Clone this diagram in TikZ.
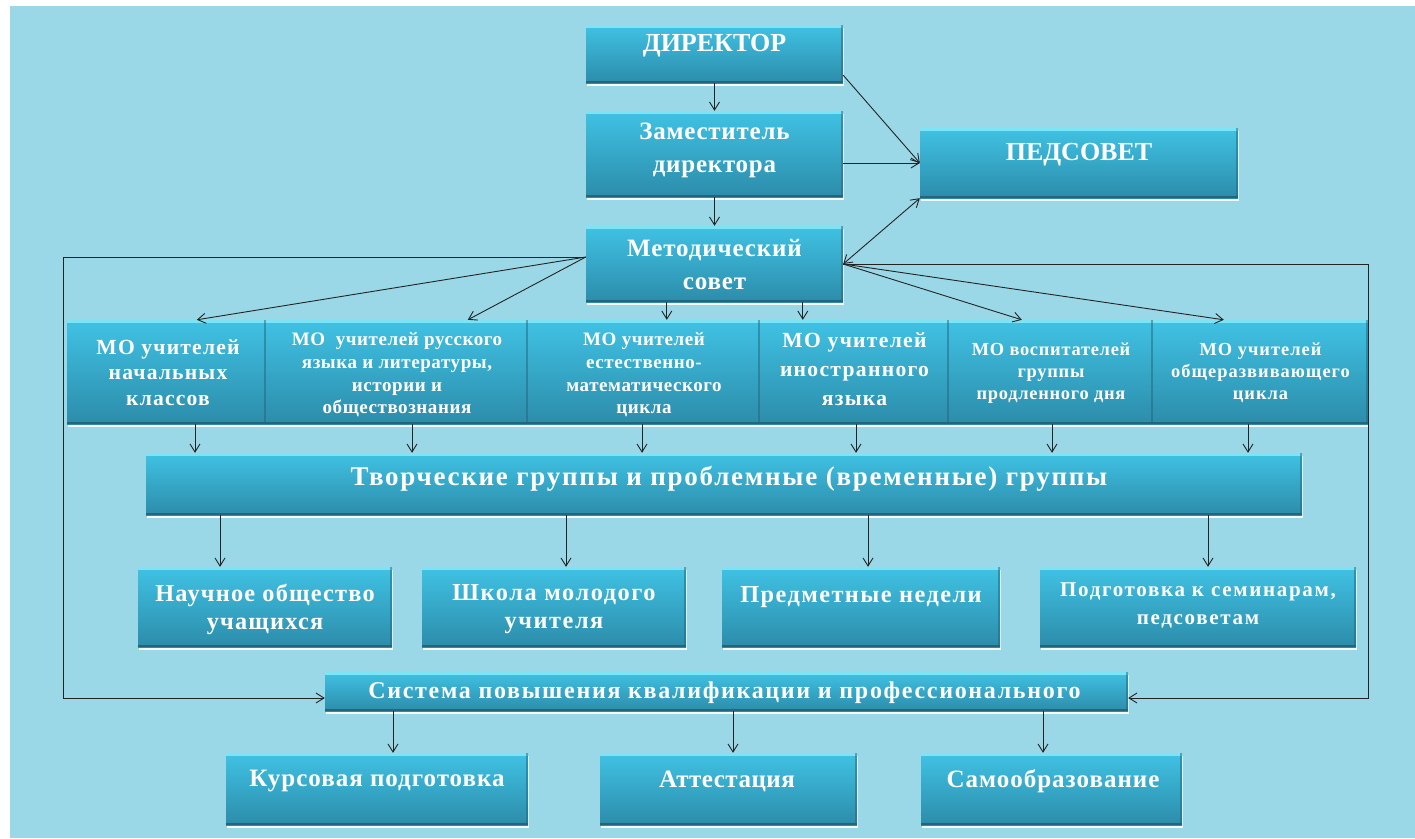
\documentclass[tikz,border=0pt]{standalone}
\usepackage{fontspec}
\setmainfont{Liberation Serif}
\usetikzlibrary{arrows.meta,calc,shadows}
\definecolor{bgblue}{RGB}{154,216,232}
\definecolor{boxtop}{RGB}{64,194,228}
\definecolor{boxbot}{RGB}{44,140,170}
\definecolor{boxhi}{RGB}{125,228,246}
\definecolor{boxdk}{RGB}{38,100,122}
\definecolor{lncol}{RGB}{35,35,35}
\newcommand{\fsz}[3]{\fontsize{#1}{#2}\selectfont\bfseries\addfontfeature{LetterSpace=#3}}
\begin{document}
\begin{tikzpicture}[x=1pt,y=-1pt,
  box/.style={rectangle, inner sep=0pt, draw=none, top color=boxtop, bottom color=boxbot,
    drop shadow={fill=white, opacity=0.9, shadow xshift=1pt, shadow yshift=-3pt},
    path picture={
      \fill[boxhi] (path picture bounding box.north west) rectangle ([yshift=-3pt]path picture bounding box.north east);
      \fill[boxdk] ([yshift=2.5pt]path picture bounding box.south west) rectangle (path picture bounding box.south east);
      \fill[boxdk,opacity=0.5] ([xshift=-2pt]path picture bounding box.north east) rectangle (path picture bounding box.south east);
    }},
  txt/.style={text=white, align=center, inner sep=0pt},
  arr/.style={draw=lncol, line width=0.9pt, -{Straight Barb[length=8pt,width=10pt]}},
  darr/.style={draw=lncol, line width=0.9pt, {Straight Barb[length=8pt,width=10pt]}-{Straight Barb[length=8pt,width=10pt]}}
]
\useasboundingbox (0,0) rectangle (1415,838);
\fill[white] (0,0) rectangle (1415,838);
\fill[bgblue] (10,6) rectangle (1415,838);

% boxes
\node[box, minimum width=257pt, minimum height=58pt] (dir) at (714.5,54) {};
\node[box, minimum width=257pt, minimum height=86pt] (zam) at (714.5,154) {};
\node[box, minimum width=257pt, minimum height=76pt] (met) at (714.5,264) {};
\node[box, minimum width=318pt, minimum height=70pt] (ped) at (1079,163) {};
\node[box, minimum width=199pt, minimum height=104pt] (mo1) at (166.5,372) {};
\node[box, minimum width=262pt, minimum height=104pt] (mo2) at (397,372) {};
\node[box, minimum width=232pt, minimum height=104pt] (mo3) at (644,372) {};
\node[box, minimum width=189pt, minimum height=104pt] (mo4) at (854.5,372) {};
\node[box, minimum width=204pt, minimum height=104pt] (mo5) at (1051,372) {};
\node[box, minimum width=215pt, minimum height=104pt] (mo6) at (1260.5,372) {};
\node[box, minimum width=1156pt, minimum height=62pt] (tvor) at (724,484) {};
\node[box, minimum width=254pt, minimum height=80pt] (nauch) at (265,607) {};
\node[box, minimum width=264pt, minimum height=80pt] (shk) at (554,607) {};
\node[box, minimum width=278pt, minimum height=80pt] (pred) at (861,607) {};
\node[box, minimum width=316pt, minimum height=80pt] (podg) at (1198,607) {};
\node[box, minimum width=803pt, minimum height=39pt] (sist) at (726.5,691.5) {};
\node[box, minimum width=302pt, minimum height=72pt] (kurs) at (377,789) {};
\node[box, minimum width=257pt, minimum height=72pt] (att) at (728.5,789) {};
\node[box, minimum width=261pt, minimum height=72pt] (samo) at (1051.5,789) {};

% texts
\node[txt, font=\fsz{26}{33}{0}] (tdir) at (714.5,46) {ДИРЕКТОР};
\node[txt, font=\fsz{25}{33}{3}] (tzam) at (714.5,150.5) {Заместитель\\директора};
\node[txt, font=\fsz{25}{33}{3.5}] (tmet) at (714.5,264.5) {Методический\\совет};
\node[txt, font=\fsz{26}{33}{0}] (tped) at (1079,155) {ПЕДСОВЕТ};
\node[txt, font=\fsz{21.6}{25.5}{5.5}] (tmo1) at (168,372.5) {МО учителей\\начальных\\классов};
\node[txt, font=\fsz{19}{22.7}{3}] (tmo2) at (397,375) {МО\ \ учителей русского\\языка и литературы,\\истории и\\обществознания};
\node[txt, font=\fsz{19}{22.7}{3}] (tmo3) at (644,375) {МО учителей\\естественно-\\математического\\цикла};
\node[txt, font=\fsz{21.6}{29}{6}] (tmo4) at (854.5,369) {МО учителей\\иностранного\\языка};
\node[txt, font=\fsz{18.4}{22}{4}] (tmo5) at (1051,373) {МО воспитателей\\группы\\продленного дня};
\node[txt, font=\fsz{18.4}{22}{5.5}] (tmo6) at (1260.5,373) {МО учителей\\общеразвивающего\\цикла};
\node[txt, font=\fsz{27}{30}{6.5}] (ttvor) at (729,479) {Творческие группы и проблемные (временные) группы};
\node[txt, font=\fsz{24.3}{28}{5}] (tnauch) at (265,609) {Научное общество\\учащихся};
\node[txt, font=\fsz{24.3}{28}{6.5}] (tshk) at (554,609) {Школа молодого\\учителя};
\node[txt, font=\fsz{24.3}{28}{6}] (tpred) at (861,597) {Предметные недели};
\node[txt, font=\fsz{21}{28}{8}] (tpodg) at (1198,605) {Подготовка к семинарам,\\педсоветам};
\node[txt, font=\fsz{24}{28}{7}] (tsist) at (724.5,693) {Система повышения квалификации и профессионального};
\node[txt, font=\fsz{25}{30}{4}] (tkurs) at (377,781) {Курсовая подготовка};
\node[txt, font=\fsz{25}{30}{2}] (tatt) at (727,781) {Аттестация};
\node[txt, font=\fsz{25}{30}{4}] (tsamo) at (1053,781) {Самообразование};

% helper coordinates
\coordinate (mleft) at ($(met.west)+(0,-7)$);
\coordinate (ltop) at (63,257);
\coordinate (lbot) at (63,698);
\coordinate (rtop) at (1368,264);
\coordinate (rbot) at (1368,698);
\coordinate (a1) at ($(mo1.north west)+(130,0)$);
\coordinate (a2) at ($(mo2.north west)+(202,0)$);
\coordinate (a3) at ($(mo3.north west)+(139,0)$);
\coordinate (a4) at ($(mo4.north west)+(43,0)$);
\coordinate (a5) at ($(mo5.north west)+(73,0)$);
\coordinate (a6) at ($(mo6.north west)+(71,0)$);
\foreach \i/\x in {1/195,2/412,3/642,4/856,5/1052,6/1248} \coordinate (d\i) at (\x,0);
\foreach \i/\x in {1/220,2/566,3/868,4/1208} \coordinate (e\i) at (\x,0);
\foreach \i/\x in {1/393,2/733,3/1043} \coordinate (f\i) at (\x,0);

% connectors
\draw[arr] (dir.south) -- (zam.north);
\draw[arr] ($(dir.south east)+(0,-8)$) -- (ped.west);
\draw[arr] (zam.east |- ped.west) -- (ped.west);
\draw[arr] (zam.south) -- (met.north);
\draw[darr] (met.east) -- (ped.south west);
\draw[arr] (met.east) -- (rtop) -- (rbot) -- (sist.east |- rbot);
\draw[arr] (mleft) -- (ltop) -- (lbot) -- (sist.west |- lbot);
\draw[arr] (mleft) -- (a1);
\draw[arr] (mleft) -- (a2);
\draw[arr] (met.south -| a3) -- (a3);
\draw[arr] (met.south -| a4) -- (a4);
\draw[arr] (met.east) -- (a5);
\draw[arr] (met.east) -- (a6);
\draw[arr] (mo1.south -| d1) -- (tvor.north -| d1);
\draw[arr] (mo2.south -| d2) -- (tvor.north -| d2);
\draw[arr] (mo3.south -| d3) -- (tvor.north -| d3);
\draw[arr] (mo4.south -| d4) -- (tvor.north -| d4);
\draw[arr] (mo5.south -| d5) -- (tvor.north -| d5);
\draw[arr] (mo6.south -| d6) -- (tvor.north -| d6);
\draw[arr] (tvor.south -| e1) -- (nauch.north -| e1);
\draw[arr] (tvor.south -| e2) -- (shk.north -| e2);
\draw[arr] (tvor.south -| e3) -- (pred.north -| e3);
\draw[arr] (tvor.south -| e4) -- (podg.north -| e4);
\draw[arr] (sist.south -| f1) -- (kurs.north -| f1);
\draw[arr] (sist.south -| f2) -- (att.north -| f2);
\draw[arr] (sist.south -| f3) -- (samo.north -| f3);
\end{tikzpicture}
\end{document}
